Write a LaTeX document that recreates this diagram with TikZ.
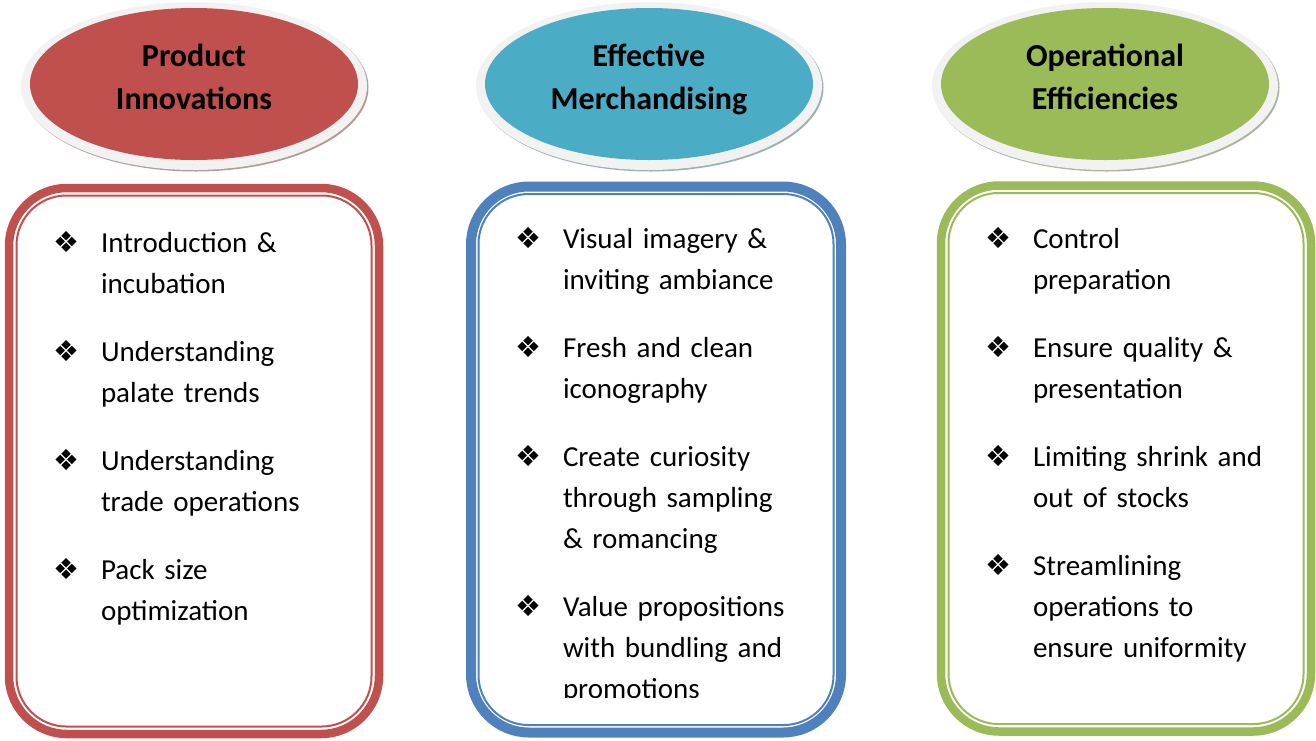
\documentclass[tikz,border=0pt]{standalone}
\usepackage{fontspec}
\setmainfont{Carlito}
\newfontfamily\symfont{DejaVu Sans}
\usepackage{xcolor}
\usepackage{tikz}
\usetikzlibrary{positioning, shapes, backgrounds}

\definecolor{innovred}{HTML}{C0504D}
\definecolor{merchteal}{HTML}{4BACC6}
\definecolor{merchblue}{HTML}{4F81BD}
\definecolor{efficgreen}{HTML}{9BBB59}
\definecolor{rimgray}{HTML}{F2F2F2}
\newcommand{\itembul}{{\symfont\char"2756}}

\begin{document}
\begin{tikzpicture}[x=1pt, y=-1pt, node distance=27pt,
  head/.style={ellipse, fill=#1, minimum width=328pt, minimum height=152pt, inner sep=0pt, outer sep=0pt, align=center,
    font=\fontsize{32}{43}\selectfont\bfseries,
    execute at begin node={\rule{0pt}{21pt}}, execute at end node={\rule[-14pt]{0pt}{14pt}}},
  panel/.style={draw=#1, line width=8.5pt, rounded corners=58pt, minimum width=370pt, minimum height=546pt, inner sep=0pt, outer sep=0pt},
  item/.style={text width=250pt, align=left, inner sep=0pt, outer sep=0pt, font=\fontsize{29}{41}\selectfont,
    execute at begin node=\strut, execute at end node=\strut},
  bul/.style={anchor=base, inner sep=0pt, font=\fontsize{29}{29}\selectfont}]
\useasboundingbox (0,0) rectangle (1316,740);

% headings
\node[head=innovred] (innov) at (194,84) {Product\\Innovations};
\node[head=merchteal, right=127pt of innov] (merch) {Effective\\Merchandising};
\node[head=efficgreen, right=128pt of merch] (effic) {Operational\\Efficiencies};

\begin{scope}[on background layer]
\foreach \e/\c in {innov/innovred, merch/merchteal, effic/efficgreen} {
  \fill[\c!35!gray!70!white] ([shift={(1.5,3.5)}]\e.center) ellipse [x radius=173pt, y radius=84pt];
  \fill[rimgray] ([shift={(0,2)}]\e.center) ellipse [x radius=173pt, y radius=84pt];
}
\end{scope}

% panels
\node[panel=innovred] (innovbox) at (194,461) {};
\node[panel=merchblue, line width=10pt] (merchbox) at (656,459.5) {};
\node[panel=efficgreen] (efficbox) at (1126,458.5) {};
\foreach \b/\c in {innovbox/innovred, merchbox/merchblue, efficbox/efficgreen}
  \draw[\c, line width=2pt, rounded corners=50pt] ([shift={(7.5,7.5)}]\b.north west) rectangle ([shift={(-7.5,-7.5)}]\b.south east);

% product innovations
\node[item, anchor=base west] (innov1) at (101,252) {Introduction \&\\incubation};
\node[item, below=of innov1] (innov2) {Understanding\\palate trends};
\node[item, below=of innov2] (innov3) {Understanding\\trade operations};
\node[item, below=of innov3] (innov4) {Pack size\\optimization};

% effective merchandising
\begin{scope}
\clip (470,190) rectangle (840,697);
\node[item, anchor=base west] (merch1) at (563,248) {Visual imagery \&\\inviting ambiance};
\node[item, below=of merch1] (merch2) {Fresh and clean\\iconography};
\node[item, below=of merch2] (merch3) {Create curiosity\\through sampling\\\& romancing};
\node[item, below=of merch3] (merch4) {Value propositions\\with bundling and\\promotions};
\end{scope}

% operational efficiencies
\node[item, anchor=base west] (effic1) at (1033,248) {Control\\preparation};
\node[item, below=of effic1] (effic2) {Ensure quality \&\\presentation};
\node[item, below=of effic2] (effic3) {Limiting shrink and\\out of stocks};
\node[item, below=of effic3] (effic4) {Streamlining\\operations to\\ensure uniformity};

\foreach \i in {innov1,innov2,innov3,innov4,merch1,merch2,merch3,merch4,effic1,effic2,effic3,effic4}
  \node[bul] at ([xshift=-35pt]\i.base west) {\itembul};
\end{tikzpicture}
\end{document}
